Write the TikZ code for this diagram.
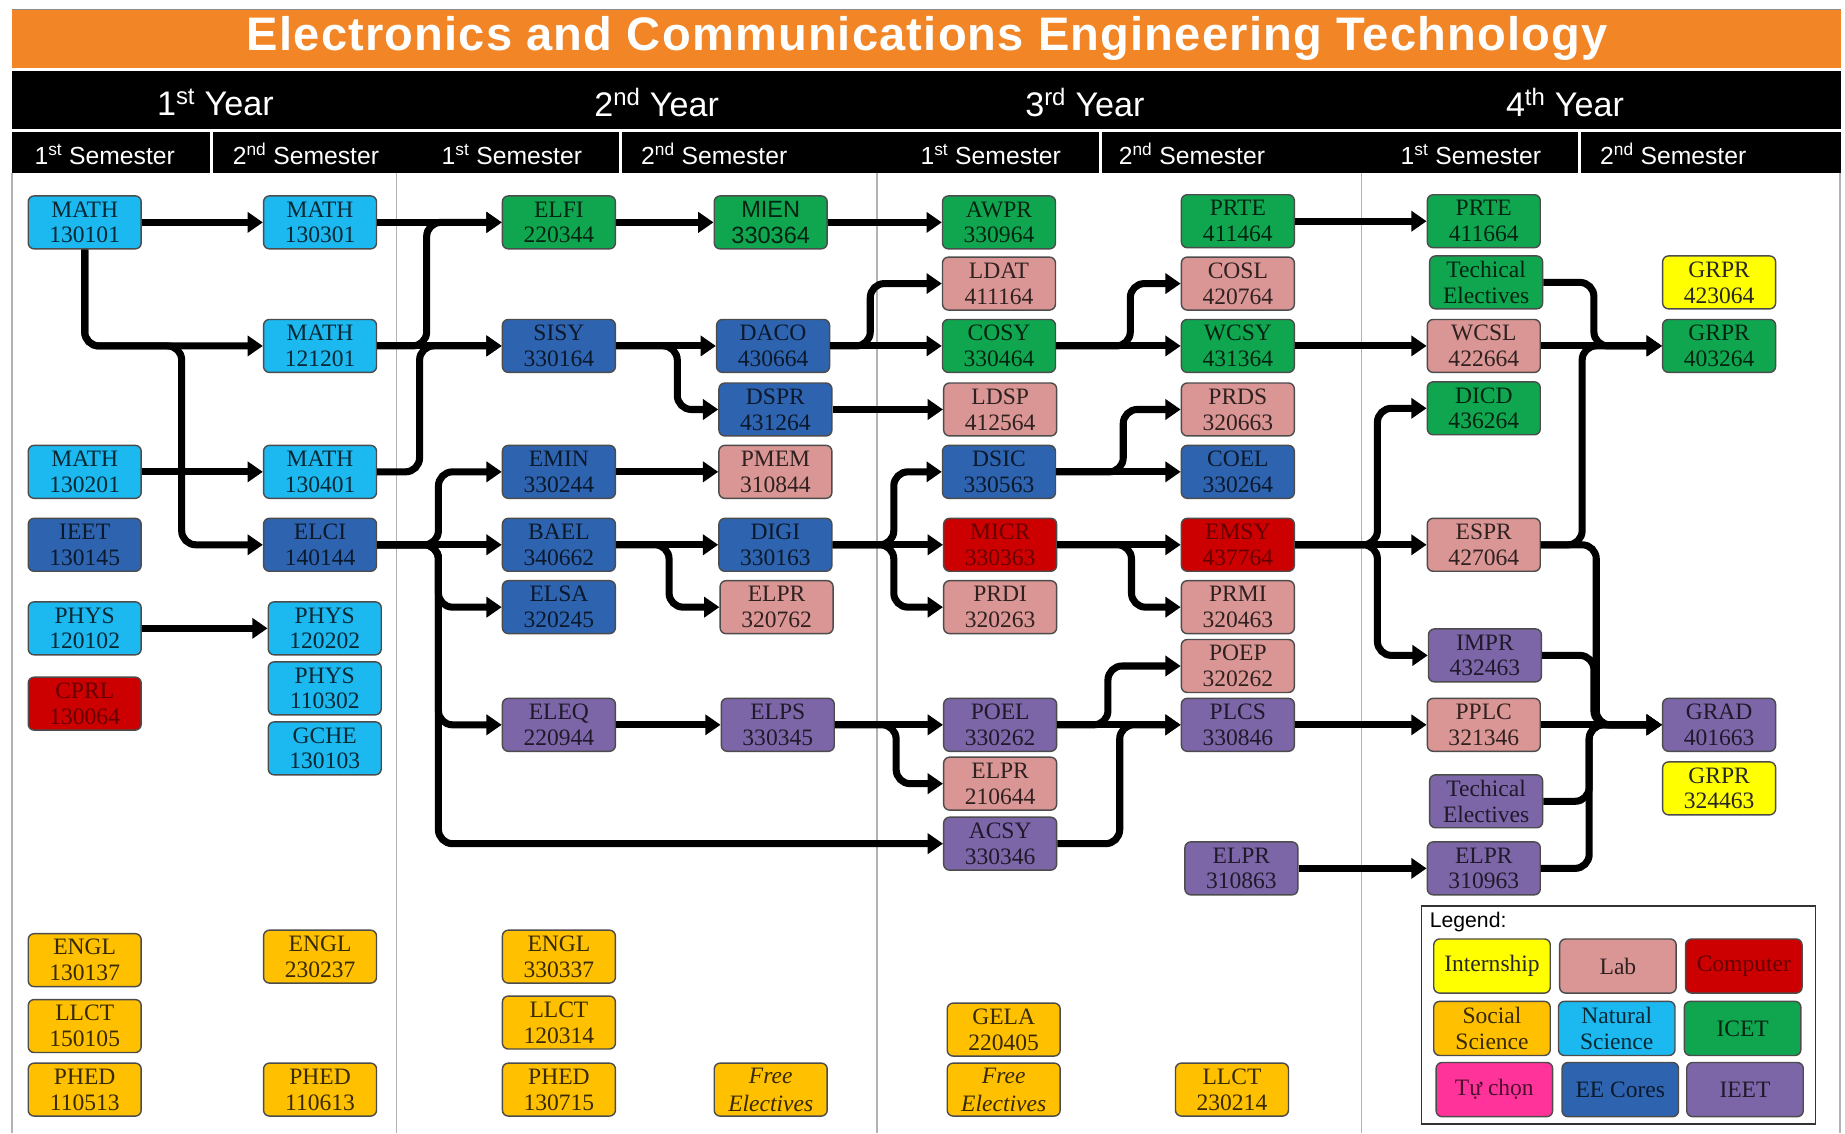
\documentclass[tikz,border=0pt]{standalone}
\usepackage{fontspec}
\setmainfont{Liberation Serif}
\newfontfamily\hdfont{Liberation Sans}
\usetikzlibrary{arrows.meta}
\definecolor{cNat}{RGB}{28,184,240}
\definecolor{cEE}{RGB}{46,99,176}
\definecolor{cICET}{RGB}{16,166,80}
\definecolor{cLab}{RGB}{217,150,148}
\definecolor{cComp}{RGB}{204,0,0}
\definecolor{cIEET}{RGB}{124,102,168}
\definecolor{cSoc}{RGB}{255,192,0}
\definecolor{cIntern}{RGB}{255,255,0}
\definecolor{cTC}{RGB}{255,51,153}
\definecolor{cOrange}{RGB}{242,133,38}
\tikzset{
 crs/.style={draw=black!70, line width=1.2pt, rounded corners=5pt, minimum width=96pt, minimum height=45pt, inner sep=0pt, align=center, font=\fontsize{20}{22}\selectfont},
 nat/.style={crs, fill=cNat, text=cNat!22!black},
 eec/.style={crs, fill=cEE, text=cEE!25!black},
 icet/.style={crs, fill=cICET, text=cICET!22!black},
 lab/.style={crs, fill=cLab, text=cLab!22!black},
 comp/.style={crs, fill=cComp, text=cComp!50!black},
 ieet/.style={crs, fill=cIEET, text=cIEET!25!black},
 soc/.style={crs, fill=cSoc, text=cSoc!22!black},
 intern/.style={crs, fill=cIntern, text=black!85},
 tcs/.style={crs, fill=cTC, text=cTC!30!black},
 free/.style={soc, font=\fontsize{20}{24}\selectfont\itshape},
 lgd/.style={minimum width=99pt, minimum height=46pt},
 lnk/.style={line width=6pt, rounded corners=12pt, -{Triangle[length=13pt,width=17pt]}},
 yeartxt/.style={text=white, inner sep=0pt, font=\hdfont\fontsize{29}{32}\selectfont},
 semtxt/.style={text=white, inner sep=0pt, font=\hdfont\fontsize{21}{24}\selectfont},
 sep/.style={draw=white, line width=2.5pt},
 grid/.style={draw=black!30, line width=1.5pt},
}
\begin{document}
\begin{tikzpicture}[x=1pt,y=-1pt]
\useasboundingbox (0,0) rectangle (1568,963);
\fill[white] (0,0) rectangle (1568,963);
% header
\fill[cOrange] (10,8) rectangle (1565,58);
\draw[black!45, line width=1pt] (10,8) -- (1565,8);
\node[text=white, inner sep=0pt, font=\hdfont\bfseries\fontsize{40}{44}\selectfont\addfontfeature{LetterSpace=2.5}] (title) at (788,33) {Electronics and Communications Engineering Technology};
\fill[black] (10,60) rectangle (1565,110);
\fill[black] (10,112) rectangle (1565,147);
\node[yeartxt] (y1) at (183,87) {1\textsuperscript{st} Year};
\node[yeartxt] (y2) at (558,87) {2\textsuperscript{nd} Year};
\node[yeartxt] (y3) at (922,87) {3\textsuperscript{rd} Year};
\node[yeartxt] (y4) at (1330,87) {4\textsuperscript{th} Year};
\draw[sep] (180,112) -- (180,147);
\draw[sep] (527,112) -- (527,147);
\draw[sep] (935,112) -- (935,147);
\draw[sep] (1342,112) -- (1342,147);
\node[semtxt] (s1) at (89,131) {1\textsuperscript{st} Semester};
\node[semtxt] (s2) at (260,131) {2\textsuperscript{nd} Semester};
\node[semtxt] (s3) at (435,131) {1\textsuperscript{st} Semester};
\node[semtxt] (s4) at (607,131) {2\textsuperscript{nd} Semester};
\node[semtxt] (s5) at (842,131) {1\textsuperscript{st} Semester};
\node[semtxt] (s6) at (1013,131) {2\textsuperscript{nd} Semester};
\node[semtxt] (s7) at (1250,131) {1\textsuperscript{st} Semester};
\node[semtxt] (s8) at (1422,131) {2\textsuperscript{nd} Semester};
% body grid
\draw[grid] (10,147) -- (10,963);
\draw[grid] (337,147) -- (337,963);
\draw[grid] (745,147) -- (745,963);
\draw[grid] (1157,147) -- (1157,963);
\draw[grid] (1564,147) -- (1564,963);
% Year 1 Sem 1
\node[nat] (a1) at (72,189) {MATH\\130101};
\node[nat] (a2) at (72,401) {MATH\\130201};
\node[eec] (a3) at (72,463) {IEET\\130145};
\node[nat] (a4) at (72,534) {PHYS\\120102};
\node[comp] (a5) at (72,598) {CPRL\\130064};
\node[soc] (a6) at (72,816) {ENGL\\130137};
\node[soc] (a7) at (72,872) {LLCT\\150105};
\node[soc] (a8) at (72,926) {PHED\\110513};
% Year 1 Sem 2
\node[nat] (b1) at (272,189) {MATH\\130301};
\node[nat] (b2) at (272,294) {MATH\\121201};
\node[nat] (b3) at (272,401) {MATH\\130401};
\node[eec] (b4) at (272,463) {ELCI\\140144};
\node[nat] (b5) at (276,534) {PHYS\\120202};
\node[nat] (b6) at (276,585) {PHYS\\110302};
\node[nat] (b7) at (276,636) {GCHE\\130103};
\node[soc] (b8) at (272,813) {ENGL\\230237};
\node[soc] (b9) at (272,926) {PHED\\110613};
% Year 2 Sem 1
\node[icet] (c1) at (475,189) {ELFI\\220344};
\node[eec] (c2) at (475,294) {SISY\\330164};
\node[eec] (c3) at (475,401) {EMIN\\330244};
\node[eec] (c4) at (475,463) {BAEL\\340662};
\node[eec] (c5) at (475,516) {ELSA\\320245};
\node[ieet] (c6) at (475,616) {ELEQ\\220944};
\node[soc] (c7) at (475,813) {ENGL\\330337};
\node[soc] (c8) at (475,869) {LLCT\\120314};
\node[soc] (c9) at (475,926) {PHED\\130715};
% Year 2 Sem 2
\node[icet, font=\hdfont\fontsize{20}{22}\selectfont] (d1) at (655,189) {MIEN\\330364};
\node[eec] (d2) at (657,294) {DACO\\430664};
\node[eec] (d3) at (659,348) {DSPR\\431264};
\node[lab] (d4) at (659,401) {PMEM\\310844};
\node[eec] (d5) at (659,463) {DIGI\\330163};
\node[lab] (d6) at (660,516) {ELPR\\320762};
\node[ieet] (d7) at (661,616) {ELPS\\330345};
\node[free] (d8) at (655,926) {Free\\Electives};
% Year 3 Sem 1
\node[icet] (e1) at (849,189) {AWPR\\330964};
\node[lab] (e2) at (849,241) {LDAT\\411164};
\node[icet] (e3) at (849,294) {COSY\\330464};
\node[lab] (e4) at (850,348) {LDSP\\412564};
\node[eec] (e5) at (849,401) {DSIC\\330563};
\node[comp] (e6) at (850,463) {MICR\\330363};
\node[lab] (e7) at (850,516) {PRDI\\320263};
\node[ieet] (e8) at (850,616) {POEL\\330262};
\node[lab] (e9) at (850,666) {ELPR\\210644};
\node[ieet] (e10) at (850,717) {ACSY\\330346};
\node[soc] (e11) at (853,875) {GELA\\220405};
\node[free] (e12) at (853,926) {Free\\Electives};
% Year 3 Sem 2
\node[icet] (f1) at (1052,188) {PRTE\\411464};
\node[lab] (f2) at (1052,241) {COSL\\420764};
\node[icet] (f3) at (1052,294) {WCSY\\431364};
\node[lab] (f4) at (1052,348) {PRDS\\320663};
\node[eec] (f5) at (1052,401) {COEL\\330264};
\node[comp] (f6) at (1052,463) {EMSY\\437764};
\node[lab] (f7) at (1052,516) {PRMI\\320463};
\node[lab] (f8) at (1052,566) {POEP\\320262};
\node[ieet] (f9) at (1052,616) {PLCS\\330846};
\node[ieet] (f10) at (1055,738) {ELPR\\310863};
\node[soc] (f11) at (1047,926) {LLCT\\230214};
% Year 4 Sem 1
\node[icet] (g1) at (1261,188) {PRTE\\411664};
\node[icet] (g2) at (1263,240) {Techical\\Electives};
\node[lab] (g3) at (1261,294) {WCSL\\422664};
\node[icet] (g4) at (1261,347) {DICD\\436264};
\node[lab] (g5) at (1261,463) {ESPR\\427064};
\node[ieet] (g6) at (1262,557) {IMPR\\432463};
\node[lab] (g7) at (1261,616) {PPLC\\321346};
\node[ieet] (g8) at (1263,681) {Techical\\Electives};
\node[ieet] (g9) at (1261,738) {ELPR\\310963};
% Year 4 Sem 2
\node[intern] (h1) at (1461,240) {GRPR\\423064};
\node[icet] (h2) at (1461,294) {GRPR\\403264};
\node[ieet] (h3) at (1461,616) {GRAD\\401663};
\node[intern] (h4) at (1461,670) {GRPR\\324463};
% Legend
\draw[black!80, line width=1.5pt, fill=white] (1208,770) rectangle (1543,955);
\node[anchor=west, inner sep=0pt, font=\hdfont\fontsize{18}{20}\selectfont] (lgt) at (1215,784) {Legend:};
\node[intern, lgd] (l1) at (1268,821) {Internship};
\node[lab, lgd] (l2) at (1375,821) {Lab};
\node[comp, lgd] (l3) at (1482,821) {Computer};
\node[soc, lgd] (l4) at (1268,874) {Social\\Science};
\node[nat, lgd] (l5) at (1374,874) {Natural\\Science};
\node[icet, lgd] (l6) at (1481,874) {ICET};
\node[tcs, lgd] (l7) at (1270,926) {Tự chọn};
\node[eec, lgd] (l8) at (1377,926) {EE Cores};
\node[ieet, lgd] (l9) at (1483,926) {IEET};
% Connectors: year 1
\draw[lnk] (a1.east) -- (b1.west);
\draw[lnk] (a1.south) |- (b2.west);
\draw[lnk] (a1.south) |- ([xshift=-69pt]b2.west) |- (b4.west);
\draw[lnk] (a2.east) -- (b3.west);
\draw[lnk] (a4.east) -- (b5.west);
% year 1 -> year 2
\draw[lnk] (b1.east) -- (c1.west);
\draw[lnk] (b2.east) -- ([xshift=42pt]b2.east) |- (c1.west);
\draw[lnk] (b2.east) -- (c2.west);
\draw[lnk] (b3.east) -- ([xshift=36pt]b3.east) |- (c2.west);
\draw[lnk] (b4.east) -- ([xshift=52pt]b4.east) |- (c3.west);
\draw[lnk] (b4.east) -- (c4.west);
\draw[lnk] (b4.east) -- ([xshift=52pt]b4.east) |- (c5.west);
\draw[lnk] (b4.east) -- ([xshift=52pt]b4.east) |- (c6.west);
\draw[lnk] (b4.east) -- ([xshift=52pt]b4.east) |- (e10.west);
% year 2
\draw[lnk] (c1.east) -- (d1.west);
\draw[lnk] (c2.east) -- (d2.west);
\draw[lnk] (c2.east) -- ([xshift=52pt]c2.east) |- (d3.west);
\draw[lnk] (c3.east) -- (d4.west);
\draw[lnk] (c4.east) -- (d5.west);
\draw[lnk] (c4.east) -- ([xshift=45pt]c4.east) |- (d6.west);
\draw[lnk] (c6.east) -- (d7.west);
% year 2 -> year 3
\draw[lnk] (d1.east) -- (e1.west);
\draw[lnk] (d2.east) -- (e3.west);
\draw[lnk] (d2.east) -- ([xshift=34pt]d2.east) |- (e2.west);
\draw[lnk] (d3.east) -- (e4.west);
\draw[lnk] (d5.east) -- (e6.west);
\draw[lnk] (d5.east) -- ([xshift=52pt]d5.east) |- (e5.west);
\draw[lnk] (d5.east) -- ([xshift=52pt]d5.east) |- (e7.west);
\draw[lnk] (d7.east) -- (e8.west);
\draw[lnk] (d7.east) -- ([xshift=52pt]d7.east) |- (e9.west);
% year 3
\draw[lnk] (e3.east) -- (f3.west);
\draw[lnk] (e3.east) -- ([xshift=63pt]e3.east) |- (f2.west);
\draw[lnk] (e5.east) -- (f5.west);
\draw[lnk] (e5.east) -- ([xshift=57pt]e5.east) |- (f4.west);
\draw[lnk] (e6.east) -- (f6.west);
\draw[lnk] (e6.east) -- ([xshift=63pt]e6.east) |- (f7.west);
\draw[lnk] (e8.east) -- (f9.west);
\draw[lnk] (e8.east) -- ([xshift=43pt]e8.east) |- (f8.west);
\draw[lnk] (e10.east) -- ([xshift=53pt]e10.east) |- (f9.west);
% year 3 -> year 4
\draw[lnk] (f1.east) -- (g1.west);
\draw[lnk] (f3.east) -- (g3.west);
\draw[lnk] (f6.east) -- (g5.west);
\draw[lnk] (f6.east) -- ([xshift=70pt]f6.east) |- (g4.west);
\draw[lnk] (f6.east) -- ([xshift=70pt]f6.east) |- (g6.west);
\draw[lnk] (f9.east) -- (g7.west);
\draw[lnk] (f10.east) -- (g9.west);
% year 4
\draw[lnk] (g2.east) -- ([xshift=43pt]g2.east) |- (h2.west);
\draw[lnk] (g3.east) -- (h2.west);
\draw[lnk] (g5.east) -- ([xshift=35pt]g5.east) |- (h2.west);
\draw[lnk] (g5.east) -- ([xshift=47pt]g5.east) |- (h3.west);
\draw[lnk] (g6.east) -- ([xshift=44pt]g6.east) |- (h3.west);
\draw[lnk] (g7.east) -- (h3.west);
\draw[lnk] (g8.east) -- ([xshift=39pt]g8.east) |- (h3.west);
\draw[lnk] (g9.east) -- ([xshift=41pt]g9.east) |- (h3.west);
\end{tikzpicture}
\end{document}
